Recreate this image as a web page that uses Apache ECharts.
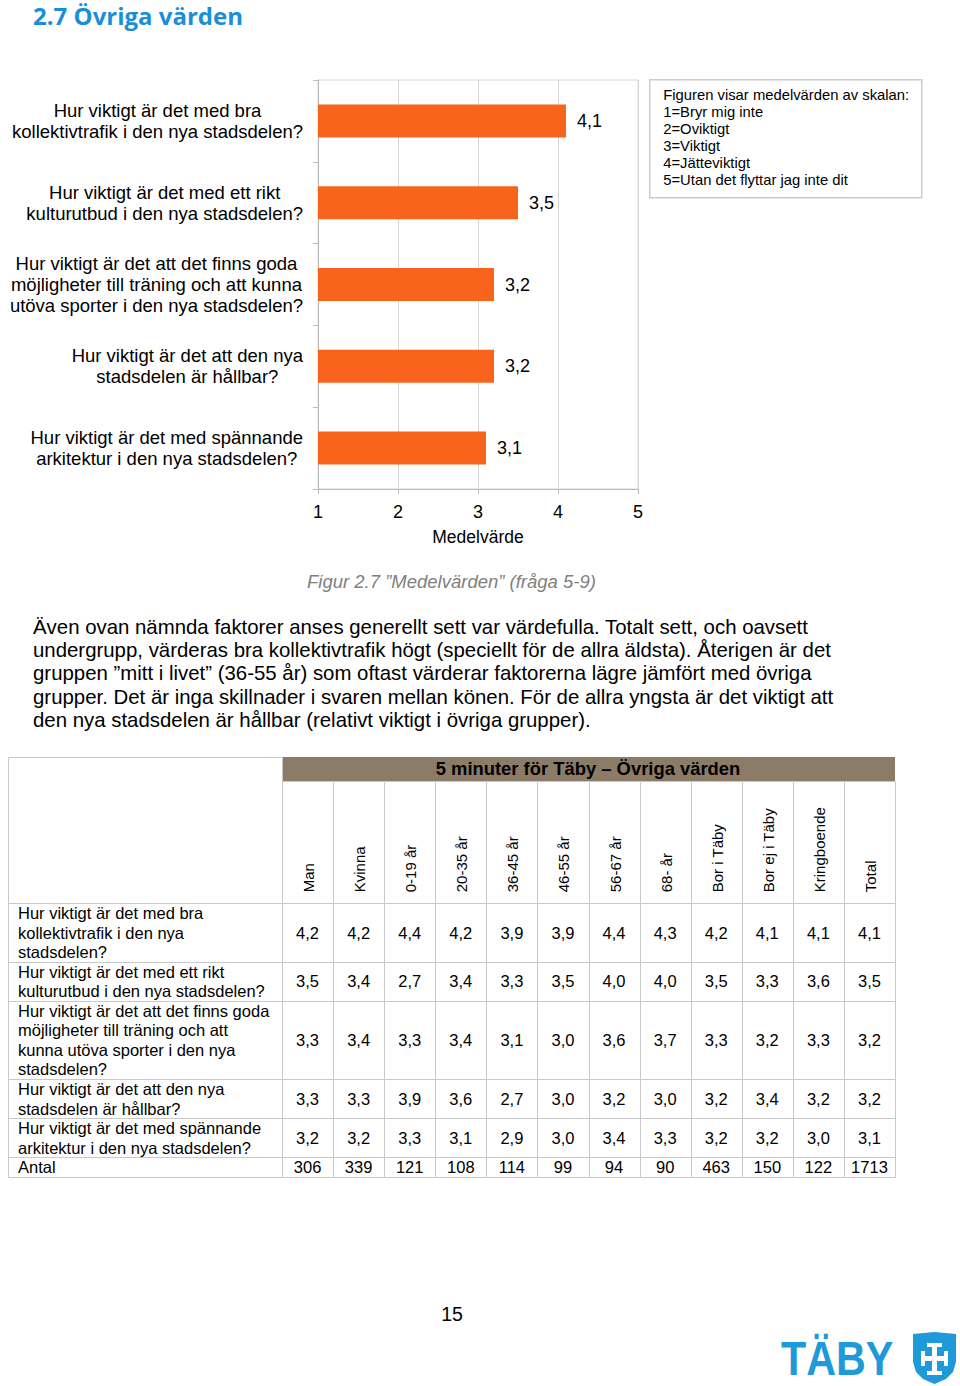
<!DOCTYPE html>
<html>
<head>
<meta charset="utf-8">
<script src="https://cdn.jsdelivr.net/npm/echarts@6/dist/echarts.min.js"></script>
<style>
html, body { margin: 0; padding: 0; background: #fff; }
#page { width: 960px; height: 1386px; }
</style>
</head>
<body>
<div id="page"></div>
<script>
// stapeldiagram: frågor och medelvärden
const questions = [
  'Hur viktigt är det med bra\nkollektivtrafik i den nya stadsdelen?',
  'Hur viktigt är det med ett rikt\nkulturutbud i den nya stadsdelen?',
  'Hur viktigt är det att det finns goda\nmöjligheter till träning och att kunna\nutöva sporter i den nya stadsdelen?',
  'Hur viktigt är det att den nya\nstadsdelen är hållbar?',
  'Hur viktigt är det med spännande\narkitektur i den nya stadsdelen?'
]
const means = [4.1, 3.5, 3.2, 3.2, 3.1]
const scaleText = [
  'Figuren visar medelvärden av skalan:',
  '1=Bryr mig inte',
  '2=Oviktigt',
  '3=Viktigt',
  '4=Jätteviktigt',
  '5=Utan det flyttar jag inte dit'
]

// tabell: grupper och rader
const groups = ['Man', 'Kvinna', '0-19 år', '20-35 år', '36-45 år', '46-55 år', '56-67 år', '68- år', 'Bor i Täby', 'Bor ej i Täby', 'Kringboende', 'Total']
const rowLabels = [
  'Hur viktigt är det med bra\nkollektivtrafik i den nya\nstadsdelen?',
  'Hur viktigt är det med ett rikt\nkulturutbud i den nya stadsdelen?',
  'Hur viktigt är det att det finns goda\nmöjligheter till träning och att\nkunna utöva sporter i den nya\nstadsdelen?',
  'Hur viktigt är det att den nya\nstadsdelen är hållbar?',
  'Hur viktigt är det med spännande\narkitektur i den nya stadsdelen?',
  'Antal'
]
const kollektivtrafik = [4.2, 4.2, 4.4, 4.2, 3.9, 3.9, 4.4, 4.3, 4.2, 4.1, 4.1, 4.1]
const kulturutbud = [3.5, 3.4, 2.7, 3.4, 3.3, 3.5, 4.0, 4.0, 3.5, 3.3, 3.6, 3.5]
const traning = [3.3, 3.4, 3.3, 3.4, 3.1, 3.0, 3.6, 3.7, 3.3, 3.2, 3.3, 3.2]
const hallbar = [3.3, 3.3, 3.9, 3.6, 2.7, 3.0, 3.2, 3.0, 3.2, 3.4, 3.2, 3.2]
const arkitektur = [3.2, 3.2, 3.3, 3.1, 2.9, 3.0, 3.4, 3.3, 3.2, 3.2, 3.0, 3.1]
const antal = [306, 339, 121, 108, 114, 99, 94, 90, 463, 150, 122, 1713]

const paragraph = [
  'Även ovan nämnda faktorer anses generellt sett var värdefulla. Totalt sett, och oavsett',
  'undergrupp, värderas bra kollektivtrafik högt (speciellt för de allra äldsta). Återigen är det',
  'gruppen ”mitt i livet” (36-55 år) som oftast värderar faktorerna lägre jämfört med övriga',
  'grupper. Det är inga skillnader i svaren mellan könen. För de allra yngsta är det viktigt att',
  'den nya stadsdelen är hållbar (relativt viktigt i övriga grupper).'
]

const FONT = '"Liberation Sans", Arial, sans-serif'
const fmt = v => v.toFixed(1).replace('.', ',')

// tabellens rader i "textrader" (höjd), för att få olika radhöjder
const rowLines = [3, 2, 4, 2, 2, 1]
const cum = [0]
rowLines.forEach(n => cum.push(cum[cum.length - 1] + n))
const HEAD_TOP = -6.25
const LEFT_W = 274
const BAND_H = 24

const tableRows = [kollektivtrafik, kulturutbud, traning, hallbar, arkitektur, antal]
const cells = []
cells.push({ col: -1, row: -1, text: '' })
groups.forEach((g, c) => cells.push({ col: c, row: -1, text: g }))
tableRows.forEach((vals, r) => {
  cells.push({ col: -1, row: r, text: rowLabels[r] })
  vals.forEach((v, c) => cells.push({ col: c, row: r, text: r === 5 ? String(v) : fmt(v) }))
})

function renderCell (params, api) {
  const c = cells[params.dataIndex]
  const cs = params.coordSys
  const yTop = api.coord([0, c.row < 0 ? HEAD_TOP : cum[c.row]])[1]
  const yBot = api.coord([0, c.row < 0 ? 0 : cum[c.row + 1]])[1]
  let x0, w
  if (c.col < 0) {
    x0 = cs.x - LEFT_W
    w = LEFT_W
  } else {
    w = api.size([1, 0])[0]
    x0 = api.coord([c.col, 0])[0] - w / 2
  }
  let y0 = yTop
  if (c.col < 0 && c.row < 0) y0 -= BAND_H
  const rect = {
    type: 'rect',
    shape: { x: Math.round(x0) + 0.5, y: Math.round(y0) + 0.5, width: Math.round(x0 + w) - Math.round(x0), height: Math.round(yBot) - Math.round(y0) },
    style: { fill: '#fff', stroke: '#c9c9c9', lineWidth: 1 }
  }
  let text
  if (c.row < 0) {
    text = {
      type: 'text', x: x0 + w / 2 + 1, y: yBot - 11, rotation: Math.PI / 2,
      style: { text: c.text, fontSize: 15, fontFamily: FONT, fill: '#000', align: 'left', verticalAlign: 'middle' }
    }
  } else if (c.col < 0) {
    text = {
      type: 'text', x: x0 + 10, y: (yTop + yBot) / 2,
      style: { text: c.text, fontSize: 16.5, lineHeight: 19.5, fontFamily: FONT, fill: '#000', align: 'left', verticalAlign: 'middle' }
    }
  } else {
    text = {
      type: 'text', x: x0 + w / 2, y: (yTop + yBot) / 2,
      style: { text: c.text, fontSize: 16.5, fontFamily: FONT, fill: '#000', align: 'center', verticalAlign: 'middle' }
    }
  }
  return { type: 'group', children: [rect, text] }
}

const chart = echarts.init(document.getElementById('page'), null, { renderer: 'svg' })

const option = {
  backgroundColor: '#fff',
  animation: false,
  textStyle: { fontFamily: FONT },
  grid: [
    { left: 318, top: 80, width: 320, height: 409, show: true, borderColor: '#d6d6d6', borderWidth: 1 },
    { left: 282, top: 781, width: 613, height: 396 }
  ],
  xAxis: [
    {
      gridIndex: 0,
      type: 'value',
      min: 1,
      max: 5,
      interval: 1,
      name: 'Medelvärde',
      nameLocation: 'middle',
      nameGap: 39,
      nameTextStyle: { fontSize: 17.5, color: '#000', fontFamily: FONT },
      axisLine: { show: true, lineStyle: { color: '#bdbdbd' } },
      axisTick: { show: true, length: 5, lineStyle: { color: '#bdbdbd' } },
      axisLabel: { fontSize: 18, color: '#000', margin: 14, fontFamily: FONT },
      splitLine: { show: true, lineStyle: { color: '#d6d6d6' } }
    },
    { gridIndex: 1, type: 'category', data: groups, show: false }
  ],
  yAxis: [
    {
      gridIndex: 0,
      type: 'category',
      inverse: true,
      data: questions,
      axisLine: { show: true, lineStyle: { color: '#bdbdbd' } },
      axisTick: { show: true, length: 5, lineStyle: { color: '#bdbdbd' } },
      axisLabel: {
        align: 'right',
        margin: 15,
        formatter: v => v.split('\n').map(l => '{c|' + l + '}').join('\n'),
        rich: { c: { align: 'center', fontSize: 18.5, lineHeight: 21, color: '#000', fontFamily: FONT } }
      }
    },
    { gridIndex: 1, type: 'value', min: HEAD_TOP, max: cum[cum.length - 1], inverse: true, show: false }
  ],
  series: [
    {
      type: 'bar',
      xAxisIndex: 0,
      yAxisIndex: 0,
      data: means,
      barWidth: 33,
      itemStyle: { color: '#f9641d' },
      label: {
        show: true,
        position: 'right',
        distance: 11,
        fontSize: 18,
        color: '#000',
        fontFamily: FONT,
        formatter: p => fmt(p.value)
      }
    },
    {
      type: 'custom',
      xAxisIndex: 1,
      yAxisIndex: 1,
      renderItem: renderCell,
      data: cells.map(c => [Math.max(c.col, 0), c.row])
    }
  ],
  graphic: [
    {
      type: 'text', x: 33, y: 15,
      style: { text: '2.7 Övriga värden', fontSize: 24, fontWeight: 'bold', fontFamily: '"Open Sans", sans-serif', fill: '#1a8fd8', align: 'left', verticalAlign: 'middle' }
    },
    {
      type: 'group', left: 649, top: 79,
      children: [
        { type: 'rect', shape: { x: 0.5, y: 0.5, width: 272, height: 118 }, style: { fill: '#fff', stroke: '#cccccc', lineWidth: 1.5 } },
        { type: 'text', x: 14, y: 7, style: { text: scaleText.join('\n'), fontSize: 14.8, lineHeight: 17, fontFamily: FONT, fill: '#000' } }
      ]
    },
    {
      type: 'text', x: 307, y: 581,
      style: { text: 'Figur 2.7 ”Medelvärden” (fråga 5-9)', fontSize: 18.5, fontStyle: 'italic', fontFamily: FONT, fill: '#808080', align: 'left', verticalAlign: 'middle' }
    },
    {
      type: 'text', x: 33, y: 615,
      style: { text: paragraph.join('\n'), fontSize: 20.4, lineHeight: 23.3, fontFamily: FONT, fill: '#000', align: 'left', verticalAlign: 'top' }
    },
    {
      type: 'group', left: 282, top: 757,
      children: [
        { type: 'rect', shape: { x: 0, y: 0, width: 613, height: 24 }, style: { fill: '#8c7b67' } },
        { type: 'text', x: 306, y: 11, style: { text: '5 minuter för Täby – Övriga värden', fontSize: 18.4, fontWeight: 'bold', fontFamily: FONT, fill: '#000', align: 'center', verticalAlign: 'middle' } }
      ]
    },
    {
      type: 'text', x: 452, y: 1314,
      style: { text: '15', fontSize: 19.5, fontFamily: FONT, fill: '#000', align: 'center', verticalAlign: 'middle' }
    },
    {
      type: 'text', x: 781, y: 1358, scaleX: 0.86,
      style: { text: 'TÄBY', fontSize: 48, fontWeight: 'bold', fontFamily: FONT, fill: '#1d9ad7', align: 'left', verticalAlign: 'middle' }
    },
    {
      type: 'group', x: 913, y: 1332,
      children: [
        { type: 'polygon', shape: { points: [[0, 2], [21.5, 0], [43, 2], [43, 30], [40, 40], [33, 47], [21.5, 52], [10, 47], [3, 40], [0, 30]] }, style: { fill: '#1d9ad7' } },
        { type: 'rect', shape: { x: 19, y: 11, width: 5, height: 32 }, style: { fill: '#fff' } },
        { type: 'rect', shape: { x: 8, y: 24, width: 27, height: 5 }, style: { fill: '#fff' } },
        { type: 'rect', shape: { x: 14, y: 11, width: 15, height: 4 }, style: { fill: '#fff' } },
        { type: 'rect', shape: { x: 14, y: 39, width: 15, height: 4 }, style: { fill: '#fff' } },
        { type: 'rect', shape: { x: 8, y: 19, width: 4, height: 15 }, style: { fill: '#fff' } },
        { type: 'rect', shape: { x: 31, y: 19, width: 4, height: 15 }, style: { fill: '#fff' } }
      ]
    }
  ]
}

chart.setOption(option)
</script>
</body>
</html>
